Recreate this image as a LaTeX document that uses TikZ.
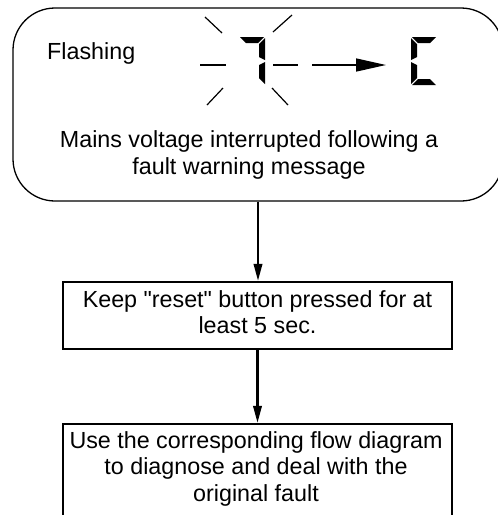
\documentclass[tikz,border=0pt]{standalone}
\usepackage{fontspec}
\newfontfamily\lib{Liberation Sans}
\usetikzlibrary{arrows.meta}
\tikzset{
  txt/.style={font=\lib\fontsize{23.3}{26.6}\selectfont, align=center, inner sep=0pt, anchor=north},
  roundbox/.style={draw, line width=1.3pt, rounded corners=42pt, inner sep=0pt},
  stepbox/.style={draw, line width=2.4pt, inner sep=0pt, minimum width=389pt},
  flow/.style={line width=2.2pt, -{Triangle[length=17pt,width=8.5pt]}},
  ray/.style={line width=1.2pt},
  seg/.style={fill=black}
}
\begin{document}
\begin{tikzpicture}[x=1pt,y=-1pt]
\useasboundingbox (0,0) rectangle (498,515);
\clip (0,0) rectangle (498,515);
% boxes
\node[roundbox, minimum width=490pt, minimum height=193pt] (b1) at (258,104.5) {};
\node[stepbox, minimum height=67pt] (b2) at (257.5,315.5) {};
\node[stepbox, minimum height=116pt] (b3) at (257.5,482) {};
% texts
\node[font=\lib\fontsize{23.3}{26.6}\selectfont, inner sep=0pt, anchor=base west] (fl) at (47,59) {Flashing};
\node[txt] (t1) at (249,130.5) {Mains voltage interrupted following a\\fault warning message};
\node[txt] (t2) at (257.5,290) {Keep "reset" button pressed for at\\least 5 sec.};
\node[txt] (t3) at (256,431) {Use the corresponding flow diagram\\to diagnose and deal with the\\original fault};
% connectors
\draw[flow] (b1.south) -- (b1.south |- b2.north);
\draw[flow] (b2.south) -- (b2.south |- b3.north);
% flashing rays
\draw[ray] (205,17) -- (222,33);
\draw[ray] (292,15) -- (273,32);
\draw[ray] (207,105) -- (223,88);
\draw[ray] (272,88) -- (288,105);
\draw[ray] (200,65) -- (226,65);
\draw[ray] (273,65) -- (298,65);
\coordinate (a1) at (312,65);
\coordinate (a2) at (386,65);
\draw[line width=1.5pt, -{Triangle[length=30pt,width=13pt]}] (a1) -- (a2);
% digit 7
\begin{scope}[shift={(239,37)}]
  \fill[seg] (1,0) -- (25,0) -- (19,6) -- (7,6) -- cycle;
  \fill[seg] (26,1) -- (26,23) -- (20,20) -- (20,7) -- cycle;
  \fill[seg] (26,25) -- (26,47) -- (20,41) -- (20,28) -- cycle;
\end{scope}
% digit C
\begin{scope}[shift={(411,37)}]
  \fill[seg] (1,0) -- (25,0) -- (19,6) -- (7,6) -- cycle;
  \fill[seg] (0,1) -- (0,23) -- (6,20) -- (6,7) -- cycle;
  \fill[seg] (0,25) -- (0,47) -- (6,41) -- (6,28) -- cycle;
  \fill[seg] (1,48) -- (25,48) -- (19,42) -- (7,42) -- cycle;
\end{scope}
\end{tikzpicture}
\end{document}
